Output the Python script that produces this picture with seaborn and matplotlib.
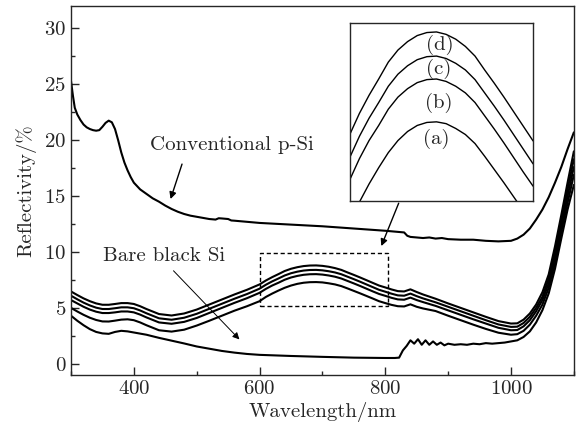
import matplotlib
matplotlib.use("Agg")
import matplotlib.pyplot as plt
import seaborn as sns
import pandas as pd
from matplotlib.patches import Rectangle
from matplotlib.ticker import MultipleLocator

# ---------------- data ----------------
conv_wl = [300, 303, 306, 310, 315, 320, 325, 330, 335, 340, 345, 350, 355, 360, 365, 370, 375, 380,
           385, 390, 395, 400, 410, 420, 430, 440, 450, 460, 470, 480, 490, 500, 510, 520, 530, 535,
           540, 550, 555, 560, 570, 580, 600, 650, 700, 750, 800, 820, 830, 835, 840, 850, 860, 870,
           880, 890, 900, 920, 940, 960, 980, 1000, 1010, 1020, 1030, 1040, 1050, 1060, 1070, 1080,
           1090, 1100]
conv_r = [25.3, 24.0, 22.9, 22.3, 21.8, 21.4, 21.15, 21.0, 20.9, 20.85, 20.9, 21.2, 21.55, 21.75, 21.6,
          21.0, 20.0, 18.9, 18.0, 17.3, 16.7, 16.2, 15.6, 15.2, 14.8, 14.5, 14.15, 13.85, 13.6, 13.4,
          13.25, 13.15, 13.05, 12.95, 12.9, 13.02, 13.0, 12.95, 12.82, 12.8, 12.75, 12.7, 12.6, 12.45,
          12.3, 12.1, 11.9, 11.8, 11.75, 11.45, 11.35, 11.3, 11.25, 11.3, 11.2, 11.25, 11.15, 11.1,
          11.1, 11.0, 10.95, 11.0, 11.2, 11.55, 12.1, 12.9, 13.8, 14.9, 16.2, 17.6, 19.2, 20.7]

bare_wl = [300, 310, 320, 330, 340, 350, 360, 370, 380, 390, 400, 420, 440, 460, 480, 500, 520, 540,
           560, 580, 600, 650, 700, 750, 800, 815, 822, 828, 834, 840, 846, 852, 858, 864, 870, 876,
           882, 888, 894, 900, 910, 920, 930, 940, 950, 960, 970, 980, 990, 1000, 1010, 1020, 1030,
           1040, 1050, 1060, 1070, 1080, 1090, 1100]
bare_r = [4.3, 3.85, 3.45, 3.1, 2.85, 2.72, 2.68, 2.85, 2.95, 2.9, 2.8, 2.6, 2.32, 2.07, 1.82, 1.55,
          1.35, 1.15, 1.0, 0.88, 0.8, 0.7, 0.62, 0.55, 0.52, 0.52, 0.55, 1.2, 1.6, 2.1, 1.8, 2.2, 1.7,
          2.1, 1.7, 2.0, 1.7, 1.9, 1.65, 1.8, 1.7, 1.75, 1.7, 1.8, 1.75, 1.85, 1.8, 1.85, 1.9, 2.0,
          2.1, 2.4, 2.9, 3.7, 4.8, 6.3, 8.5, 11.2, 13.8, 16.0]

bsi_wl = [300, 310, 320, 330, 340, 350, 360, 370, 380, 390, 400, 410, 420,
          440, 460, 480, 500, 520, 540, 560, 580,
          600, 610, 620, 630, 640, 650, 660, 670, 680, 690, 700, 710, 720, 730, 740, 750, 760, 770,
          780, 790, 800, 810, 820, 830, 840, 850, 860,
          880, 900, 920, 940, 960, 980, 1000,
          1010, 1020, 1030, 1040, 1050, 1060, 1070, 1080, 1090, 1100]
r_d = [6.47, 6.15, 5.85, 5.6, 5.4, 5.28, 5.28, 5.35, 5.43, 5.43, 5.35, 5.15, 4.9,
       4.45, 4.32, 4.5, 4.85, 5.3, 5.75, 6.2, 6.62,
       7.1, 7.45, 7.75, 8.02, 8.3, 8.5, 8.64, 8.74, 8.79, 8.8, 8.76, 8.68, 8.56, 8.4, 8.17, 7.95,
       7.72, 7.48, 7.24, 7.0, 6.83, 6.65, 6.5, 6.47, 6.66, 6.42, 6.2,
       5.82, 5.4, 5.0, 4.6, 4.2, 3.82, 3.6,
       3.62, 3.95, 4.5, 5.3, 6.4, 8.0, 10.5, 13.3, 16.2, 19.0]
r_c = [6.09, 5.77, 5.47, 5.22, 5.02, 4.9, 4.9, 4.97, 5.05, 5.05, 4.97, 4.77, 4.52,
       4.07, 3.94, 4.12, 4.47, 4.92, 5.37, 5.82, 6.24,
       6.72, 7.07, 7.37, 7.63, 7.9, 8.1, 8.24, 8.34, 8.39, 8.4, 8.36, 8.28, 8.17, 8.01, 7.79, 7.57,
       7.34, 7.1, 6.86, 6.62, 6.45, 6.27, 6.12, 6.09, 6.28, 6.05, 5.85,
       5.5, 5.1, 4.7, 4.3, 3.9, 3.52, 3.3,
       3.32, 3.65, 4.2, 5.0, 6.0, 7.6, 10.0, 12.8, 15.6, 18.3]
r_b = [5.7, 5.4, 5.1, 4.85, 4.66, 4.54, 4.54, 4.6, 4.68, 4.68, 4.6, 4.4, 4.15,
       3.7, 3.58, 3.75, 4.1, 4.55, 5.0, 5.45, 5.87,
       6.35, 6.7, 7.0, 7.25, 7.52, 7.72, 7.86, 7.96, 8.01, 8.02, 7.98, 7.9, 7.79, 7.63, 7.41, 7.19,
       6.96, 6.72, 6.48, 6.25, 6.08, 5.9, 5.76, 5.73, 5.92, 5.7, 5.52,
       5.18, 4.78, 4.38, 3.98, 3.6, 3.22, 3.0,
       3.02, 3.35, 3.9, 4.7, 5.7, 7.2, 9.5, 12.3, 15.0, 17.6]
r_a = [5.0, 4.68, 4.38, 4.12, 3.92, 3.79, 3.78, 3.86, 3.95, 3.98, 3.9, 3.7, 3.45,
       3.0, 2.88, 3.05, 3.42, 3.85, 4.3, 4.75, 5.15,
       5.6, 5.98, 6.28, 6.55, 6.8, 7.0, 7.15, 7.25, 7.3, 7.31, 7.28, 7.2, 7.1, 6.95, 6.74, 6.52,
       6.3, 6.07, 5.84, 5.6, 5.43, 5.27, 5.15, 5.13, 5.32, 5.1, 4.95,
       4.72, 4.3, 3.9, 3.5, 3.12, 2.78, 2.6,
       2.65, 2.95, 3.5, 4.3, 5.3, 6.8, 9.0, 11.8, 14.4, 16.9]

bsi_labels = ["(a)", "(b)", "(c)", "(d)"]
x_ticks = [400, 600, 800, 1000]
y_ticks = [0, 5, 10, 15, 20, 25, 30]

# ---------------- style ----------------
sns.set_style("ticks")
plt.rcParams["font.family"] = ["serif"]
plt.rcParams["font.serif"] = ["cmr10", "DejaVu Serif"]
plt.rcParams["axes.formatter.use_mathtext"] = True
plt.rcParams["mathtext.fontset"] = "cm"

fs = 15
fig = plt.figure(figsize=(5.82, 4.32), dpi=100)
ax = fig.add_axes([0.122, 0.132, 0.864, 0.854])

lw = 1.5
sns.lineplot(x=conv_wl, y=conv_r, ax=ax, color="black", lw=lw, estimator=None, sort=False)
sns.lineplot(x=bare_wl, y=bare_r, ax=ax, color="black", lw=lw, estimator=None, sort=False)
for r in (r_a, r_b, r_c, r_d):
    sns.lineplot(x=bsi_wl, y=r, ax=ax, color="black", lw=lw, estimator=None, sort=False)

ax.set_xlim(300, 1100)
ax.set_ylim(-1, 32)
ax.set_xticks(x_ticks)
ax.set_yticks(y_ticks)
ax.xaxis.set_minor_locator(MultipleLocator(100))
ax.yaxis.set_minor_locator(MultipleLocator(2.5))
ax.tick_params(which="both", direction="in", top=False, right=False, labelsize=fs, width=1.0)
ax.tick_params(which="major", length=6)
ax.tick_params(which="minor", length=3)
for s in ax.spines.values():
    s.set_linewidth(1.0)
    s.set_visible(True)
ax.set_xlabel("Wavelength/nm", fontsize=fs, labelpad=3)
ax.set_ylabel("Reflectivity/%", fontsize=fs, labelpad=6)

# annotations
ax.text(425, 19.6, "Conventional p-Si", fontsize=fs, ha="left", va="center")
ax.annotate("", xy=(457, 14.5), xytext=(478, 18.1),
            arrowprops=dict(arrowstyle="-|>", color="black", lw=1.0, mutation_scale=10))
ax.text(351, 9.67, "Bare black Si", fontsize=fs, ha="left", va="center")
ax.annotate("", xy=(571, 2.0), xytext=(460, 8.5),
            arrowprops=dict(arrowstyle="-|>", color="black", lw=0.7, mutation_scale=10))
ax.add_patch(Rectangle((600, 5.2), 205, 4.7, fill=False, ls=(0, (3, 2)), lw=1.0, color="black"))
ax.annotate("", xy=(792, 10.3), xytext=(823, 14.6),
            arrowprops=dict(arrowstyle="-|>", color="black", lw=1.0, mutation_scale=10))

# inset
axin = fig.add_axes([0.601, 0.535, 0.3145, 0.412])
for r in (r_a, r_b, r_c, r_d):
    sns.lineplot(x=bsi_wl, y=r, ax=axin, color="black", lw=1.0, estimator=None, sort=False)
axin.set_xlim(600, 790)
axin.set_ylim(6.0, 8.95)
axin.set_xticks([])
axin.set_yticks([])
axin.set_xlabel("")
axin.set_ylabel("")
for s in axin.spines.values():
    s.set_linewidth(1.0)
    s.set_visible(True)
label_x = [690, 692, 692, 693]
label_y = [7.02, 7.63, 8.18, 8.59]
for lab, lx, ly in zip(bsi_labels, label_x, label_y):
    axin.text(lx, ly, lab, fontsize=fs, ha="center", va="center")

fig.savefig("out.png", dpi=100)
